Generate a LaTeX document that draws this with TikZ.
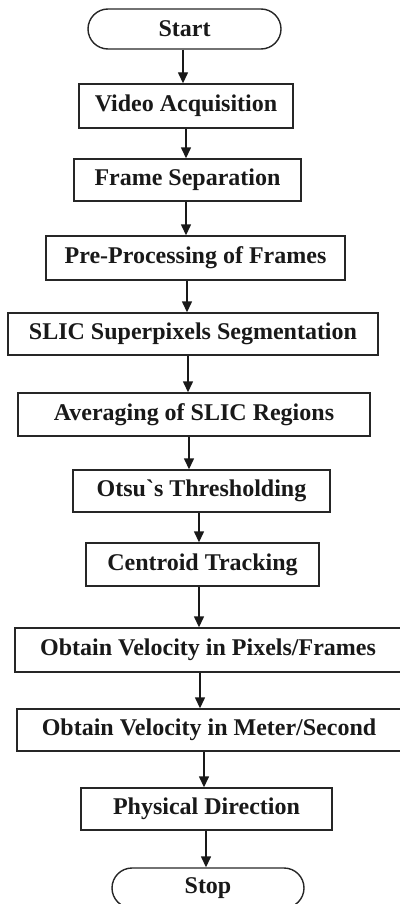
\documentclass[tikz,border=0pt]{standalone}
\usepackage{fontspec}
\setmainfont{Liberation Serif}[Ligatures=TeXOff]
\usetikzlibrary{arrows.meta}

% vertical connector from the bottom of one step to the top of the next,
% shifted sideways by #3
\newcommand\flowlink[3]{\draw[arr] ([xshift=#3]#1.south) -- ([xshift=#3]#1.south |- #2.north);}

\begin{document}
\begin{tikzpicture}[x=0.5pt,y=-0.5pt,
  sz/.style 2 args={minimum width=#1*0.5pt, minimum height=#2*0.5pt},
  base/.style={draw=black!85, line width=0.7pt, inner sep=0pt,
    font=\fontsize{12pt}{14pt}\selectfont\bfseries, text=black!90},
  proc/.style={base, rectangle},
  term/.style={base, rectangle, rounded corners=10pt},
  arr/.style={draw=black!90, line width=0.7pt,
    -{Triangle[width=5pt,length=5.5pt]}}]
\useasboundingbox (0,0) rectangle (400,904);
\clip (0,0) rectangle (400,904);

\node[term, sz={193}{40}] (start) at (184.5,29) {Start};
\node[proc, sz={214}{44}] (va)    at (186,106)  {Video Acquisition};
\node[proc, sz={227}{42}] (fs)    at (187.5,180) {Frame Separation};
\node[proc, sz={299}{44}] (pp)    at (195.5,258) {Pre-Processing of Frames};
\node[proc, sz={370}{42}] (slic)  at (193,334)  {SLIC Superpixels Segmentation};
\node[proc, sz={352}{43}] (avg)   at (194,414.5) {Averaging of SLIC Regions};
\node[proc, sz={257}{42}] (otsu)  at (201.5,491) {Otsu`s Thresholding};
\node[proc, sz={233}{43}] (cent)  at (202.5,564.5) {Centroid Tracking};
\node[proc, sz={386}{44}] (pix)   at (208,650)  {Obtain Velocity in Pixels/Frames};
\node[proc, sz={384}{42}] (meter) at (209,730)  {Obtain Velocity in Meter/Second};
\node[proc, sz={251}{42}] (phys)  at (206.5,809) {Physical Direction};
\node[term, sz={192}{40}] (stop)  at (208,888)  {Stop};

\flowlink{start}{va}{-0.75pt}
\flowlink{va}{fs}{0pt}
\flowlink{fs}{pp}{-0.75pt}
\flowlink{pp}{slic}{-4.25pt}
\flowlink{slic}{avg}{-2.5pt}
\flowlink{avg}{otsu}{-2.5pt}
\flowlink{otsu}{cent}{-1.25pt}
\flowlink{cent}{pix}{-1.75pt}
\flowlink{pix}{meter}{-4pt}
\flowlink{meter}{phys}{-2.5pt}
\flowlink{phys}{stop}{-0.25pt}
\end{tikzpicture}
\end{document}
